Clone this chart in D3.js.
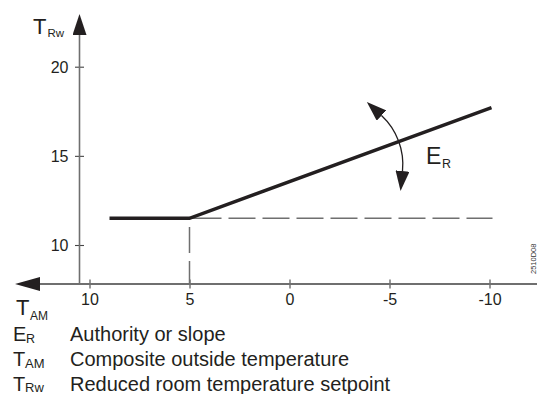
<!DOCTYPE html>
<html>
<head>
<meta charset="utf-8">
<script src="https://cdn.jsdelivr.net/npm/d3@7/dist/d3.min.js"></script>
<style>
  html, body { margin: 0; padding: 0; background: #fff; }
  svg { display: block; font-family: "Liberation Sans", Arial, Helvetica, sans-serif; }
</style>
</head>
<body>
<svg id="chart" width="537" height="394"></svg>
<script>
// Heating curve: reduced room setpoint vs. composite outside temperature
const xTickValues = [10, 5, 0, -5, -10];
const yTickValues = [10, 15, 20];

// Setpoint curve (outside temp -> reduced room setpoint)
const curveTemp = [9, 5, -10.1];
const curveSetpoint = [11.5, 11.5, 17.7];

// Slope (authority) adjustment arrow, three points along the arc
const slopeArrowTemp = [-4.6, -5.44, -5.65];
const slopeArrowSetpoint = [17.26, 15.87, 14.15];

// Legend
const legendSymbols = ["E", "T", "T"];
const legendSubscripts = ["R", "AM", "Rw"];
const legendTexts = [
  "Authority or slope",
  "Composite outside temperature",
  "Reduced room temperature setpoint"
];

const docCode = "2510D08";

// ---- layout ----
const W = 537, H = 394;
const axisX = 79.5;    // pixel x of vertical axis
const axisY = 284;     // pixel y of horizontal axis
const ink = "#231f20";
const axisGrey = "#6f6f6f";

const svg = d3.select("#chart");

const x = d3.scaleLinear().domain([10, -10]).range([89.5, 489.5]);
const y = d3.scaleLinear().domain([10, 20]).range([245, 66.7]);

// plain hyphen-minus tick labels
const fmt = d => String(d);

// arrow markers
const defs = svg.append("defs");
function marker(id, len, wid) {
  defs.append("marker")
    .attr("id", id)
    .attr("viewBox", `0 0 ${len} ${wid}`)
    .attr("refX", 0).attr("refY", wid / 2)
    .attr("markerWidth", len).attr("markerHeight", wid)
    .attr("markerUnits", "userSpaceOnUse")
    .attr("orient", "auto-start-reverse")
    .append("path")
    .attr("d", `M0,0L${len},${wid / 2}L0,${wid}Z`)
    .attr("fill", ink);
}
marker("arrowX", 25, 14);
marker("arrowY", 21, 14);
marker("arrowSlope", 20, 14);

// ---- axes ----
const xAxis = d3.axisBottom(x)
  .tickValues(xTickValues)
  .tickSize(4.5)
  .tickPadding(8)
  .tickFormat(fmt);
const gx = svg.append("g").attr("transform", `translate(0,${axisY})`).call(xAxis);
gx.select(".domain").remove();
gx.selectAll(".tick line").attr("y1", -4.5).attr("y2", 4.5)
  .attr("stroke", "#555").attr("stroke-width", 1.2);
gx.selectAll(".tick text")
  .attr("font-size", 16).attr("fill", ink)
  .attr("font-family", "Liberation Sans, Arial, sans-serif")
  .attr("dy", null).attr("y", 21);

const yAxis = d3.axisLeft(y)
  .tickValues(yTickValues)
  .tickSize(4.5)
  .tickPadding(7)
  .tickFormat(fmt);
const gy = svg.append("g").attr("transform", `translate(${axisX},0)`).call(yAxis);
gy.select(".domain").remove();
gy.selectAll(".tick line").attr("x1", -4.5).attr("x2", 4.5)
  .attr("stroke", "#444").attr("stroke-width", 1.1);
gy.selectAll(".tick text")
  .attr("font-size", 16).attr("fill", ink)
  .attr("font-family", "Liberation Sans, Arial, sans-serif")
  .attr("x", -11).attr("dy", "0.35em");

// axis lines with arrowheads
svg.append("line")
  .attr("x1", W).attr("x2", 40)
  .attr("y1", axisY).attr("y2", axisY)
  .attr("stroke", axisGrey).attr("stroke-width", 1.8)
  .attr("marker-end", "url(#arrowX)");
svg.append("line")
  .attr("x1", axisX).attr("x2", axisX)
  .attr("y1", axisY).attr("y2", 35)
  .attr("stroke", axisGrey).attr("stroke-width", 1.6)
  .attr("marker-end", "url(#arrowY)");

// ---- reference dashes from the curve knee ----
const kneeT = curveTemp[1], kneeR = curveSetpoint[1];
svg.append("line")
  .attr("x1", x(kneeT)).attr("x2", x(curveTemp[2]) + 1)
  .attr("y1", y(kneeR)).attr("y2", y(kneeR))
  .attr("stroke", axisGrey).attr("stroke-width", 1.5)
  .attr("stroke-dasharray", "32 7 27 7 27 7 27 7 27 7 27 7 27 7 27 7 27 7 27 7");
svg.append("line")
  .attr("x1", x(kneeT)).attr("x2", x(kneeT))
  .attr("y1", axisY).attr("y2", y(kneeR))
  .attr("stroke", axisGrey).attr("stroke-width", 1.5)
  .attr("stroke-dasharray", "23 8 26 40");

// ---- setpoint curve ----
const curvePts = curveTemp.map((t, i) => [x(t), y(curveSetpoint[i])]);
svg.append("path")
  .attr("d", d3.line()(curvePts))
  .attr("fill", "none")
  .attr("stroke", ink)
  .attr("stroke-width", 3.4)
  .attr("stroke-linejoin", "miter");

// ---- slope arrow: circular arc through three points ----
const [A, B, C] = slopeArrowTemp.map((t, i) => [x(t), y(slopeArrowSetpoint[i])]);
function circumcircle(p, q, r) {
  const ax = p[0], ay = p[1], bx = q[0], by = q[1], cx = r[0], cy = r[1];
  const d = 2 * (ax * (by - cy) + bx * (cy - ay) + cx * (ay - by));
  const ux = ((ax * ax + ay * ay) * (by - cy) + (bx * bx + by * by) * (cy - ay) + (cx * cx + cy * cy) * (ay - by)) / d;
  const uy = ((ax * ax + ay * ay) * (cx - bx) + (bx * bx + by * by) * (ax - cx) + (cx * cx + cy * cy) * (bx - ax)) / d;
  return { cx: ux, cy: uy, r: Math.hypot(ax - ux, ay - uy) };
}
const circ = circumcircle(A, B, C);
const cross = (B[0] - A[0]) * (C[1] - B[1]) - (B[1] - A[1]) * (C[0] - B[0]);
const sweep = cross > 0 ? 1 : 0;
svg.append("path")
  .attr("d", `M${A[0]},${A[1]}A${circ.r},${circ.r} 0 0 ${sweep} ${C[0]},${C[1]}`)
  .attr("fill", "none")
  .attr("stroke", ink)
  .attr("stroke-width", 1.3)
  .attr("marker-start", "url(#arrowSlope)")
  .attr("marker-end", "url(#arrowSlope)");

// ---- labels with subscripts ----
function subLabel(x0, base, main, mainSize, subX, subBase, sub, subSize) {
  const g = svg.append("g").attr("fill", ink);
  g.append("text").attr("x", x0).attr("y", base)
    .attr("font-size", mainSize).text(main);
  g.append("text").attr("x", subX).attr("y", subBase)
    .attr("font-size", subSize).text(sub);
}
// axis titles
subLabel(33, 34, "T", 22, 47.5, 36.5, "Rw", 11.5);
subLabel(16, 315, "T", 22, 30, 319.5, "AM", 12);
// slope label on the plot
subLabel(426, 164, "E", 23, 442, 167.5, "R", 12.5);

// legend
const legendBase = [341, 365.5, 390.5];
const legendSubX = [26, 25, 25];
const legendSubSize = [12.5, 13, 13];
const legendSubDy = [1.8, 2.8, 1.5];
legendSymbols.forEach((s, i) => {
  subLabel(13, legendBase[i], s, 20, legendSubX[i], legendBase[i] + legendSubDy[i],
    legendSubscripts[i], legendSubSize[i]);
  svg.append("text")
    .attr("x", 70).attr("y", legendBase[i])
    .attr("font-size", 20).attr("fill", ink)
    .text(legendTexts[i]);
});

// drawing code, rotated at the right edge
svg.append("text")
  .attr("transform", "translate(536,274) rotate(-90)")
  .attr("font-size", 7.5)
  .attr("fill", "#333")
  .text(docCode);
</script>
</body>
</html>
